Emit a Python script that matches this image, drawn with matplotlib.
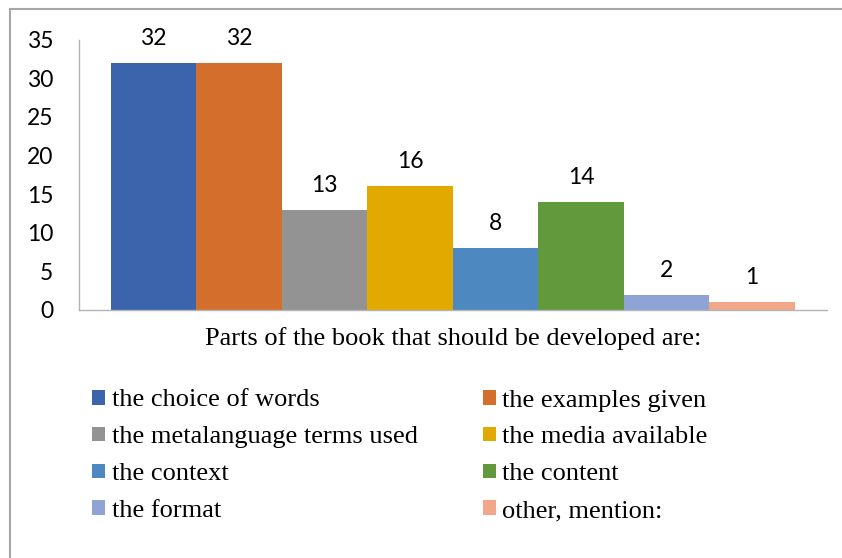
import matplotlib
matplotlib.use("Agg")
import matplotlib.pyplot as plt
from matplotlib.lines import Line2D

categories = ["the choice of words", "the examples given", "the metalanguage terms used",
              "the media available", "the context", "the content", "the format", "other, mention:"]
values = [32, 32, 13, 16, 8, 14, 2, 1]
colors = ["#3C64AC", "#D46E2C", "#939393", "#E2AA00", "#4D88C0", "#62993D", "#8FA3D4", "#F0A78A"]
yticks = [0, 5, 10, 15, 20, 25, 30, 35]
xlabel = "Parts of the book that should be developed are:"

W, H = 842, 558
fig = plt.figure(figsize=(W / 100, H / 100), dpi=100)
ax = fig.add_axes([79 / W, 1 - 310 / H, (827 - 79) / W, (310 - 39.5) / H])

x = list(range(len(values)))
bars = ax.bar(x, values, width=1.0, color=colors)
ax.set_xlim(-0.5 - 0.374, len(values) - 0.5 + 0.376)
ax.set_ylim(0, 35)
ax.set_yticks(yticks)
ax.set_xticks([])
ax.tick_params(axis="y", length=0, pad=18.5, labelsize=16.5)
for lab in ax.get_yticklabels():
    lab.set_family("Lato")
for s in ["top", "right"]:
    ax.spines[s].set_visible(False)
for s in ["left", "bottom"]:
    ax.spines[s].set_color("#b3b3b3")
    ax.spines[s].set_linewidth(1.0)

ax.bar_label(bars, labels=[str(v) for v in values], padding=10,
             fontsize=16.5, family="Lato")

ax.set_xlabel(xlabel, fontsize=19, family="Liberation Serif", labelpad=12.5)

order = [0, 2, 4, 6, 1, 3, 5, 7]
handles = [bars.patches[i] for i in order]
labels = [categories[i] for i in order]
fig.legend(handles, labels, ncol=2, loc="upper left",
           bbox_to_anchor=(92.3 / W, 1 - 389.5 / H), frameon=False,
           prop={"family": "Liberation Serif", "size": 19},
           handlelength=0.49, handleheight=0.49, handletextpad=0.24,
           columnspacing=2.48, labelspacing=0.565, borderpad=0, borderaxespad=0)

fig.add_artist(Line2D([10 / W, 1], [1 - 9 / H, 1 - 9 / H], transform=fig.transFigure,
                      color="#a6a6a6", lw=1.5))
fig.add_artist(Line2D([10 / W, 10 / W], [0, 1 - 9 / H], transform=fig.transFigure,
                      color="#a6a6a6", lw=1.5))

fig.savefig("out.png", dpi=100)
